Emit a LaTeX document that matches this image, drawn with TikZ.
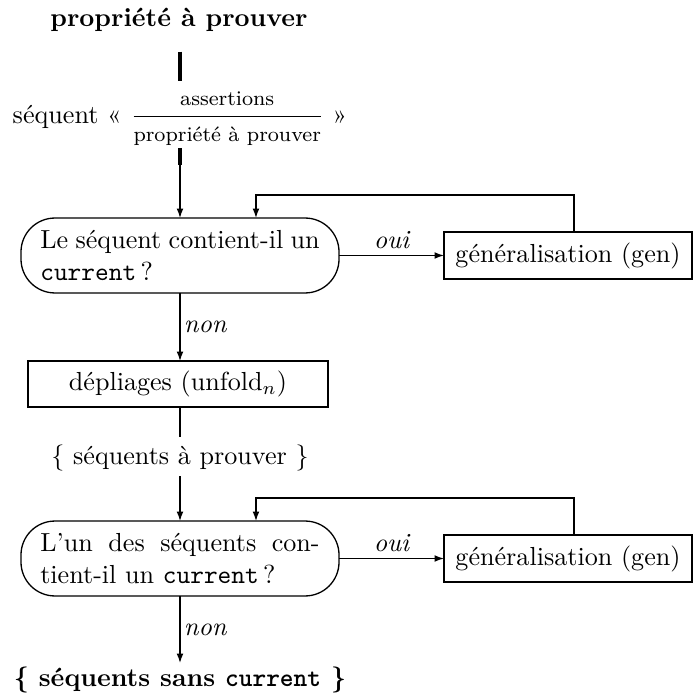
\documentclass[tikz,border=0pt]{standalone}
\usetikzlibrary{arrows.meta}
\begin{document}
\begin{tikzpicture}[x=0.383pt,y=-0.383pt,
  every node/.style={inner sep=0pt, outer sep=0pt},
  thin line/.style={line width=0.5pt},
  heavy/.style={line width=1.2pt},
  arr/.style={line width=0.5pt,-{Latex[length=3.6pt,width=2.6pt]}},
  question/.style={draw, line width=0.5pt, rounded corners=13pt,
    minimum width=121.8pt, minimum height=28.7pt},
  action/.style={draw, line width=0.5pt, minimum height=18pt},
  answer/.style={font=\itshape, inner sep=2.5pt}]
\useasboundingbox (0,0) rectangle (693,693);

% input property and the sequent built from it
\node[font=\bfseries] (goal) at (179,20) {propriété à prouver};
\node[anchor=base] (seq) at (180,123.5)
  {séquent « $\displaystyle\frac{\mbox{\footnotesize assertions}}{\mbox{\footnotesize propriété à prouver}}$ »};
\draw[heavy] (seq.north |- goal.south) ++(0,20) -- (seq.north |- 0,81);

% first test: does the sequent contain a current?
\node[question] (q1) at (180,255.5)
  {\parbox{107pt}{Le séquent contient-il un\\\texttt{current}\,?}};
\node[action, minimum width=95pt] (g1) at (568,255.5) {généralisation (gen)};
\draw[heavy] ([yshift=-1pt]seq.south) -- ++(0,17);
\draw[arr] ([yshift=-1pt]seq.south) -- (q1.north);
\draw[arr] (q1.east) -- node[answer, above] {oui} (g1.west);
\draw[arr] ([xshift=2.3pt]g1.north) -- ++(0,-37) -| ([xshift=29.1pt]q1.north);

% unfolding
\node[action, minimum width=114.9pt, minimum height=17.6pt] (d) at (178,384)
  {dépliages (unfold$_n$)};
\draw[arr] (q1.south) -- node[answer, right, inner sep=1.5pt] {non} (q1.south |- d.north);
\node (todo) at (180,458) {\{ séquents à prouver \}};
\draw[thin line] (todo.north |- d.south) -- ([yshift=3pt]todo.north);

% second test: does one of the sequents contain a current?
\node[question] (q2) at (180,558.5)
  {\parbox{107pt}{L'un des séquents con-\linebreak tient-il un \texttt{current}\,?}};
\node[action, minimum width=95pt] (g2) at (568,558.5) {généralisation (gen)};
\draw[arr] ([yshift=-2pt]todo.south) -- (q2.north);
\draw[arr] (q2.east) -- node[answer, above] {oui} (g2.west);
\draw[arr] ([xshift=2.3pt]g2.north) -- ++(0,-37) -| ([xshift=29.1pt]q2.north);

% result
\node[font=\bfseries] (res) at (180,680) {\{ séquents sans \texttt{current} \}};
\draw[arr] (q2.south) -- node[answer, right, inner sep=1.5pt] {non} ([yshift=1.5pt]res.north);
\end{tikzpicture}
\end{document}
